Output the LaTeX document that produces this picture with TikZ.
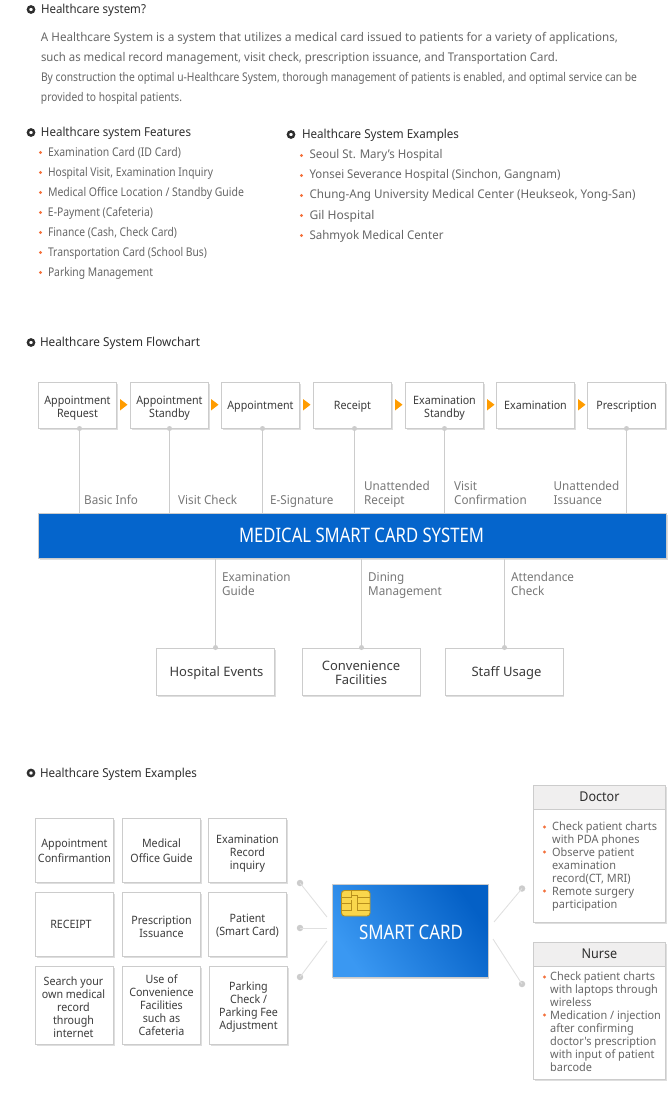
\documentclass[tikz,border=0pt]{standalone}
\usepackage{fontspec}
\usepackage{graphicx}
\setmainfont{Noto Sans}
\newfontfamily\narrowa{Noto Sans}[FakeStretch=0.93]
\newfontfamily\narrowb{Noto Sans}[FakeStretch=0.95]
\usetikzlibrary{shadows,calc}
\definecolor{bodygray}{HTML}{666666}
\definecolor{headgray}{HTML}{2E2E2E}
\definecolor{boxtext}{HTML}{3C3C3C}
\definecolor{labelgray}{HTML}{777777}
\definecolor{edgegray}{HTML}{CCCCCC}
\definecolor{bulletorange}{HTML}{F4713C}
\definecolor{arroworange}{HTML}{FF9C00}
\definecolor{barblue}{HTML}{0565CC}
\definecolor{headfill}{HTML}{F0EFEF}
\definecolor{chipyellow}{HTML}{F9D64C}
\definecolor{chipedge}{HTML}{B8901C}
\definecolor{cardlight}{HTML}{3A98F2}
\definecolor{cardblue}{HTML}{0460C6}
\newcommand\fw[2]{\resizebox{#1pt}{\height}{#2}}
\newcommand\tl[3]{\kern#1pt\raisebox{-#2pt}[\height][\depth]{\begin{tabular}{@{}c@{}}#3\end{tabular}}}
\tikzset{
  txt/.style={anchor=base west,inner sep=0pt,outer sep=0pt,text=bodygray,font=\fontsize{12}{13}\selectfont},
  heading/.style={txt,text=headgray,font=\fontsize{12.3}{13}\selectfont},
  ring/.style={circle,draw=headgray,fill=white,line width=2.4pt,minimum size=6.2pt,inner sep=0pt},
  bul/.style={circle,fill=bulletorange,minimum size=3.2pt,inner sep=0pt},
  cardbox/.style={draw=edgegray,fill=white,line width=.8pt,text=boxtext,align=center,inner sep=0pt,
    font=\narrowa\fontsize{11.5}{13}\selectfont,
    drop shadow={shadow xshift=1.2pt,shadow yshift=-1.6pt,fill=black,opacity=.13}},
  flowbox/.style={cardbox,minimum width=78pt,minimum height=46pt},
  gridbox/.style={cardbox,minimum width=78pt,minimum height=64pt},
  bigbox/.style={cardbox,minimum width=118pt,minimum height=47pt,font=\fontsize{13}{13}\selectfont},
  dotn/.style={circle,fill=edgegray,minimum size=5pt,inner sep=0pt},
  bigdot/.style={circle,fill=edgegray,minimum size=6.5pt,inner sep=0pt},
  conn/.style={draw=edgegray,line width=.9pt},
  softconn/.style={draw=black!12,line width=.9pt},
  lab/.style={anchor=base west,inner sep=0pt,align=left,text=labelgray,font=\narrowb\fontsize{12.3}{14}\selectfont},
  panelhead/.style={draw=edgegray,fill=headfill,line width=.8pt,minimum width=132pt,minimum height=24pt,inner sep=0pt,text=headgray,font=\narrowa\fontsize{13.5}{14}\selectfont},
  panelbody/.style={draw=edgegray,fill=white,line width=.8pt,minimum width=132pt,inner sep=0pt,
    drop shadow={shadow xshift=1.2pt,shadow yshift=-1.6pt,fill=black,opacity=.13}},
  paneltext/.style={anchor=north west,inner sep=0pt,align=left,text=bodygray,font=\narrowb\fontsize{11.5}{13}\selectfont},
  flowarrow/.style={fill=arroworange,draw=none}
}
\begin{document}
\begin{tikzpicture}[x=1pt,y=-1pt]
\useasboundingbox (0,0) rectangle (668,1094);
% --- top text
\node[ring] (r1) at (31,9.5) {};
\node[heading] (h1) at (41,13.5) {\fw{105}{Healthcare system?}};
\node[txt] (p1) at (41,41.5) {\fw{577}{A Healthcare System is a system that utilizes a medical card issued to patients for a variety of applications,}};
\node[txt] (p2) at (41,61.5) {\fw{517}{such as medical record management, visit check, prescription issuance, and Transportation Card.}};
\node[txt] (p3) at (41,81.5) {\fw{596}{By construction the optimal u-Healthcare System, thorough management of patients is enabled, and optimal service can be}};
\node[txt] (p4) at (41,101.5) {\fw{141}{provided to hospital patients.}};
% --- features
\node[ring] (r2) at (31,132.5) {};
\node[heading] (h2) at (41,136.5) {\fw{150}{Healthcare system Features}};
\foreach \n/\y/\w/\t in {1/156.5/133/{Examination Card (ID Card)},2/176.5/165/{Hospital Visit, Examination Inquiry},3/196.5/196/{Medical Office Location / Standby Guide},4/216.5/105/{E-Payment (Cafeteria)},5/236.5/129/{Finance (Cash, Check Card)},6/256.5/159/{Transportation Card (School Bus)},7/276.5/105/{Parking Management}}{
  \node[bul] (fb\n) at (40.5,\y-4) {};
  \node[txt] (ft\n) at (48,\y) {\fw{\w}{\t}};
}
% --- examples list
\node[ring] (r3) at (291,134.5) {};
\node[heading] (h3) at (302,138.5) {\fw{157}{Healthcare System Examples}};
\foreach \n/\y/\w/\t in {1/159/133/{Seoul St. Mary's Hospital},2/179/251/{Yonsei Severance Hospital (Sinchon, Gangnam)},3/199/326/{Chung-Ang University Medical Center (Heukseok, Yong-San)},4/219/65/{Gil Hospital},5/239/134/{Sahmyok Medical Center}}{
  \node[bul] (eb\n) at (301.5,\y-3.5) {};
  \node[txt] (et\n) at (309.5,\y) {\fw{\w}{\t}};
}
% --- flowchart
\node[ring] (r4) at (31,342.5) {};
\node[heading] (h4) at (40,346.5) {\fw{160}{Healthcare System Flowchart}};
\node[flowbox] (f1) at (77.5,405.5) {\tl{0}{2.5}{Appointment\\Request}};
\node[flowbox] (f2) at (169.5,405.5) {\tl{0}{2.5}{Appointment\\Standby}};
\node[flowbox] (f3) at (260.5,405.5) {\tl{0}{1}{Appointment}};
\node[flowbox] (f4) at (352.5,405.5) {\tl{0}{1}{Receipt}};
\node[flowbox] (f5) at (444.5,405.5) {\tl{0}{2.5}{Examination\\Standby}};
\node[flowbox] (f6) at (535.5,405.5) {\tl{0}{1}{Examination}};
\node[flowbox] (f7) at (626.5,405.5) {\tl{0}{1}{Prescription}};
\foreach \x in {120,211,303,395,487,578}{
  \fill[flowarrow] (\x,399) -- (\x+7.5,404.7) -- (\x,410.5) -- cycle;
}
\node[draw=edgegray,fill=barblue,line width=.8pt,minimum width=628pt,minimum height=45pt,inner sep=0pt,text=white,
  drop shadow={shadow xshift=1pt,shadow yshift=-1.5pt,fill=black,opacity=.13}] (bar) at (352.5,535.5) {};
\node[inner sep=0pt,text=white,font=\fontsize{20}{22}\selectfont] (bartext) at (361.5,535.5) {\fw{245}{MEDICAL SMART CARD SYSTEM}};
\foreach \n/\x in {1/79.5,2/169.5,3/262.5,4/354.5,5/444.5,7/626.5}{
  \node[dotn] (fd\n) at (\x,428.5) {};
  \draw[conn] (fd\n.center) -- (fd\n.center |- bar.north);
}
\node[lab] (l1) at (84,504) {Basic Info};
\node[lab] (l2) at (178,504) {Visit Check};
\node[lab] (l3) at (270,504) {E-Signature};
\node[lab] (l4) at (364,504) {Unattended\\Receipt};
\node[lab] (l5) at (454,504) {Visit\\Confirmation};
\node[lab] (l6) at (553.5,504) {Unattended\\Issuance};
\node[lab] (l7) at (222,595) {Examination\\Guide};
\node[lab] (l8) at (368,595) {Dining\\Management};
\node[lab] (l9) at (511,595) {Attendance\\Check};
\node[bigbox] (b1) at (215.5,671.5) {\tl{2}{2}{Hospital Events}};
\node[bigbox] (b2) at (361,671.5) {\tl{0}{3}{Convenience\\Facilities}};
\node[bigbox] (b3) at (504,671.5) {\tl{5}{2}{Staff Usage}};
\foreach \n/\x in {1/215.5,2/361.5,3/504.5}{
  \node[dotn] (bd\n) at (\x,647.5) {};
  \draw[conn] (bd\n.center) -- (bd\n.center |- bar.south);
}
% --- examples
\node[ring] (r5) at (31,773) {};
\node[heading] (h5) at (40,777.5) {\fw{157}{Healthcare System Examples}};
\node[gridbox] (g1) at (74.5,850.5) {\tl{0}{2}{Appointment\\[2pt]Confirmantion}};
\node[gridbox] (g2) at (161.5,850.5) {\tl{0}{2}{Medical\\[2pt]Office Guide}};
\node[gridbox] (g3) at (247.5,850.5) {\tl{0}{3.5}{Examination\\Record\\inquiry}};
\node[gridbox] (g4) at (74.5,924.5) {\tl{-7}{1}{RECEIPT}};
\node[gridbox] (g5) at (161.5,924.5) {\tl{0}{3.5}{Prescription\\Issuance}};
\node[gridbox] (g6) at (247.5,924.5) {\tl{0}{2}{Patient\\(Smart Card)}};
\node[cardbox,minimum width=78pt,minimum height=78pt] (g7) at (74.5,1005.5) {\tl{-2}{3}{Search your\\own medical\\record\\through\\internet}};
\node[cardbox,minimum width=78pt,minimum height=78pt] (g8) at (161.5,1005.5) {\tl{0}{1}{Use of\\Convenience\\Facilities\\such as\\Cafeteria}};
\node[cardbox,minimum width=78pt,minimum height=78pt] (g9) at (248.5,1005.5) {\tl{0}{2}{Parking\\Check /\\Parking Fee\\Adjustment}};
% card
\node[minimum width=156pt,minimum height=93pt,inner sep=0pt,draw=edgegray,line width=.6pt,
  drop shadow={shadow xshift=1pt,shadow yshift=-1.5pt,fill=black,opacity=.15},
  top color=cardlight,bottom color=cardblue,shading angle=125] (card) at (410.3,930.8) {};
\node[inner sep=0pt,text=white,font=\fontsize{20}{22}\selectfont] (cardtext) at (411,932) {\fw{104}{SMART CARD}};
\fill[chipyellow,draw=chipedge,line width=.9pt,rounded corners=3pt] (341.5,890.5) rectangle (370,916);
\draw[chipedge,line width=.9pt] (341.5,897) -- (351,897) -- (351,895) -- (357,895) -- (357,910) -- (370,910)
  (341.5,903) -- (351,903) (341.5,910) -- (351,910) -- (351,900)
  (357,897) -- (370,897) (357,903) -- (370,903) (351,895) -- (351,890.5);
% card connectors
\node[bigdot] (cd1) at (300,883) {};
\node[bigdot] (cd2) at (300,928) {};
\node[bigdot] (cd3) at (300,977) {};
\node[bigdot] (cd4) at (522,888.5) {};
\node[bigdot] (cd5) at (522,984) {};
\coordinate (ce1) at (327,917);
\coordinate (ce2) at (327,928);
\coordinate (ce3) at (327,941);
\coordinate (ce4) at (494,922);
\coordinate (ce5) at (493,939);
\foreach \n in {1,...,5}{\draw[softconn] (cd\n.center) -- (ce\n);}
% panels
\node[panelbody,minimum height=137pt,anchor=north west] (docbody) at (533,784.5) {};
\node[panelhead,anchor=north west] (dochead) at (533,784.5) {Doctor};
\node[paneltext] (doctext) at (552,822) {Check patient charts\\with PDA phones\\Observe patient\\examination\\record(CT, MRI)\\Remote surgery\\participation};
\foreach \n/\y in {1/827,2/852,3/891}{\node[bul] (db\n) at (544.5,\y) {};}
\node[panelbody,minimum height=137pt,anchor=north west] (nursebody) at (533,941.5) {};
\node[panelhead,anchor=north west] (nursehead) at (533,941.5) {Nurse};
\node[paneltext] (nursetext) at (550,972) {Check patient charts\\with laptops through\\wireless\\Medication / injection\\after confirming\\doctor's prescription\\with input of patient\\barcode};
\foreach \n/\y in {1/977,2/1015}{\node[bul] (nb\n) at (544.5,\y) {};}
\end{tikzpicture}
\end{document}
